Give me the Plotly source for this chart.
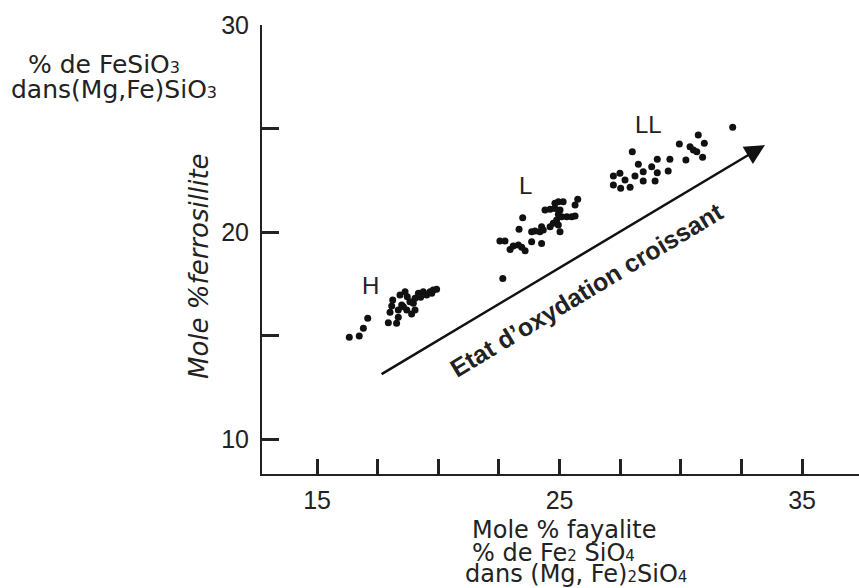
import plotly.graph_objects as go

# ---- data ----
H_x = [16.33, 16.74, 16.91, 17.09, 17.94, 18.28, 18.35, 18.01, 18.08, 18.12, 18.35, 18.49,
       18.42, 18.63, 18.72, 18.70, 18.90, 19.04, 18.97, 19.04, 19.18, 19.38, 19.27, 19.52,
       19.66, 19.79, 19.93, 19.73, 18.83, 18.56]
H_y = [14.91, 14.98, 15.35, 15.83, 15.62, 15.59, 15.88, 16.12, 16.43, 16.71, 16.23, 16.47,
       16.96, 17.12, 16.87, 16.23, 16.04, 16.23, 16.56, 16.80, 17.04, 17.12, 16.85, 16.96,
       17.12, 17.20, 17.23, 17.04, 16.63, 16.39]

L_x = [22.66, 22.54, 22.75, 22.96, 23.09, 23.30, 23.44, 23.58, 23.85, 24.26, 23.33, 23.48,
       23.85, 23.99, 24.19, 24.33, 24.26, 24.61, 24.74, 24.95, 25.02, 24.88, 25.09, 25.30,
       25.50, 25.64, 24.40, 24.61, 24.81, 25.02, 24.81, 24.95, 25.15, 25.64, 25.75, 24.95]
L_y = [17.76, 19.57, 19.57, 19.16, 19.32, 19.37, 19.26, 19.10, 19.53, 19.45, 20.13, 20.69,
       20.01, 20.05, 20.01, 20.10, 20.26, 20.26, 20.42, 20.34, 20.01, 20.58, 20.74, 20.74,
       20.74, 20.77, 21.06, 21.10, 21.14, 21.06, 21.39, 21.46, 21.46, 21.30, 21.58, 20.86]

LL_x = [32.14, 30.72, 30.97, 30.38, 30.52, 30.66, 29.94, 30.90, 30.21, 29.55, 29.48, 29.03,
        28.80, 29.03, 28.94, 28.45, 28.45, 28.25, 28.00, 28.11, 27.91, 27.70, 27.52, 27.49,
        27.22, 27.22]
LL_y = [25.06, 24.69, 24.29, 24.12, 23.96, 23.88, 24.25, 23.61, 23.48, 23.51, 22.95, 23.51,
        23.15, 22.86, 22.46, 22.91, 22.46, 23.27, 23.88, 22.71, 22.16, 22.51, 22.11, 22.84,
        22.71, 22.27]

x_ticks = [15, 17.5, 20, 22.5, 25, 27.5, 30, 32.5, 35]
x_labels = ["15", "", "", "", "25", "", "", "", "35"]
y_ticks = [10, 15, 20, 25, 30]
y_labels = ["10", "", "20", "", "30"]

group_labels = ["H", "L", "LL"]
group_label_pos = [(17.22, 17.44), (23.58, 22.27), (28.65, 25.17)]

arrow_tail = (17.60, 13.09)
arrow_tip = (33.47, 24.20)
arrow_text = "Etat d’oxydation croissant"

INK = "#222222"
FONT = "Liberation Sans, Arial, sans-serif"
WIDE = "DejaVu Sans, Verdana, sans-serif"

W, H = 859, 588
L_M, R_M, T_M, B_M = 262, 0, 25, 114
PW, PH = W - L_M - R_M, H - T_M - B_M


def px(xp):
    return (xp - L_M) / PW


def py(yp):
    return (H - B_M - yp) / PH


def small(t, size=15):
    return f"<span style='font-size:{size}px'>{t}</span>"


def note(x, y, text, size=23, xanchor="center", angle=0, ref="paper", family=WIDE):
    return dict(x=x, y=y, xref=ref, yref=ref, text=text, showarrow=False,
                xanchor=xanchor, yanchor="middle", textangle=angle,
                font=dict(size=size, color=INK, family=family))


fig = go.Figure()
for gx, gy in [(H_x, H_y), (L_x, L_y), (LL_x, LL_y)]:
    fig.add_trace(go.Scatter(x=gx, y=gy, mode="markers",
                             marker=dict(size=7, color="#111111"),
                             showlegend=False, hoverinfo="skip"))

ann = []
for lab, (lx, ly) in zip(group_labels, group_label_pos):
    a = note(lx, ly, lab, size=24, ref="x", family=FONT)
    a["yref"] = "y"
    ann.append(a)

# arrow
ann.append(dict(x=arrow_tip[0], y=arrow_tip[1], ax=arrow_tail[0], ay=arrow_tail[1],
                xref="x", yref="y", axref="x", ayref="y", text="", showarrow=True,
                arrowhead=2, arrowsize=1.6, arrowwidth=2.5, arrowcolor="#111111",
                standoff=0, startstandoff=0))
ann.append(note(px(586), py(290), "<b>" + arrow_text + "</b>", size=25, angle=-31, family=FONT))

# y axis titles
ann.append(note(px(199), py(266), "<i>Mole %ferrosillite</i>", size=26, angle=-90))
ann.append(note(px(104), py(64), "% de FeSiO" + small("3", 16), size=25))
ann.append(note(px(9), py(89), "dans(Mg,Fe)SiO" + small("3", 16), size=25, xanchor="left"))

# x axis titles
ann.append(note(px(470), py(530), "Mole % fayalite", size=24, xanchor="left"))
ann.append(note(px(470), py(553), "% de Fe" + small("2") + " SiO" + small("4"), size=24, xanchor="left"))
ann.append(note(px(463), py(574), "dans (Mg, Fe)" + small("2") + "SiO" + small("4"), size=24, xanchor="left"))

fig.update_layout(
    width=W, height=H,
    margin=dict(l=L_M, r=R_M, t=T_M, b=B_M, pad=0),
    paper_bgcolor="white", plot_bgcolor="white",
    annotations=ann,
    xaxis=dict(range=[12.73, 12.73 + PW / 24.25], tickmode="array", tickvals=x_ticks,
               ticktext=x_labels, ticks="inside", ticklen=15, tickwidth=3, tickcolor=INK,
               showline=True, linewidth=2, linecolor=INK, showgrid=False, zeroline=False,
               ticklabelstandoff=3, tickfont=dict(size=25, color=INK, family=FONT)),
    yaxis=dict(range=[8.31, 30], tickmode="array", tickvals=y_ticks, ticktext=y_labels,
               ticks="inside", ticklen=17, tickwidth=3, tickcolor=INK,
               showline=True, linewidth=2, linecolor=INK, showgrid=False, zeroline=False,
               ticklabelstandoff=6, tickfont=dict(size=25, color=INK, family=FONT)),
)

fig.write_html("out.html", config={"displayModeBar": False},
               post_script="document.body.style.margin='0px';document.body.style.overflow='hidden';")
